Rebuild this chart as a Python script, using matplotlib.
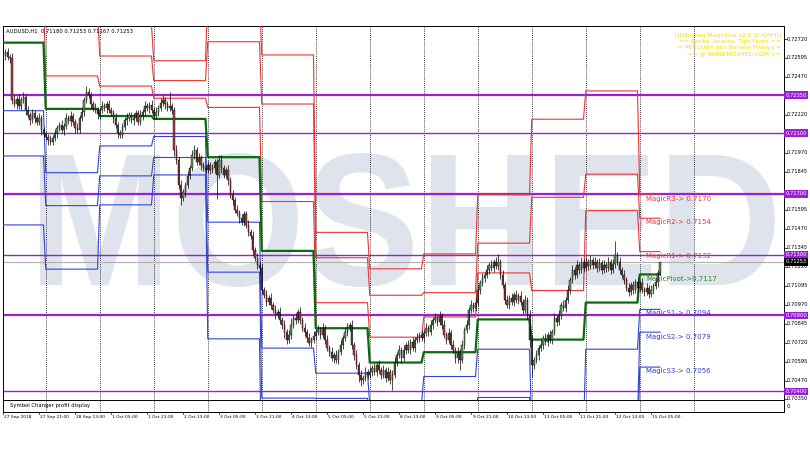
import numpy as np
import matplotlib
matplotlib.use("Agg")
import matplotlib.pyplot as plt
from matplotlib.transforms import blended_transform_factory, Affine2D
from matplotlib.textpath import TextPath
from matplotlib.font_manager import FontProperties
from matplotlib.patches import PathPatch

W, H = 810, 450

# hourly closes, pips above 0.70000, one row per trading day (27 Sep 05:00 .. 15 Oct 09:00)
closes_by_day = [
    [261.5, 263.4, 260, 259.5, 232, 229, 232.5, 228, 232, 234, 225, 222, 218.7, 223, 220, 217.4, 220, 212, 209.5],
    [207.5, 205.5, 204, 207, 210, 213.4, 215.4, 212, 214.8, 220, 218, 221.3, 217.4, 213.4, 212, 220, 224, 232, 237, 235, 229, 226.6, 225.3, 222.6],
    [225.3, 228, 226.6, 229, 225.3, 223.3, 220, 215.4, 210, 208.8, 214, 218.7, 220, 222, 218.7, 220, 223.3, 217.4, 222, 224, 228, 226.6, 228.6, 225.3],
    [221.3, 224, 226.6, 230, 232, 229, 226.6, 228, 225.3, 199, 192.4, 176, 167.4, 171.3, 176, 182, 187, 195.7, 199, 191, 193.7, 189, 187, 185.8],
    [189, 185.8, 187, 191, 182.5, 192.4, 187, 182.5, 185.8, 179.2, 169.4, 166, 159.5, 157.5, 154, 151.6, 157, 149.6, 145, 142.4, 133, 128, 123.3, 121.3],
    [106.8, 103.6, 99, 101.6, 97, 93.7, 90.4, 92.4, 87.1, 84, 79.2, 74, 77.2, 84, 88.4, 87.1, 92.4, 87.1, 81.8, 79.2, 75.3, 72, 74, 76.6],
    [79.2, 80.5, 77.2, 81.8, 74, 68.7, 66, 62, 64, 60.8, 66, 70.6, 75.3, 79.2, 81.8, 84, 70.6, 64, 57.5, 51, 47.6, 49, 52.9, 51],
    [52.9, 55.5, 52.9, 57.5, 54.2, 51, 54.2, 49, 52.9, 47.6, 51, 59.5, 64, 67.3, 62, 67.3, 70.6, 67.3, 72.7, 68.7, 74, 75.3, 77.2, 75.3],
    [78.5, 81.8, 79.2, 84, 87.1, 88.4, 85.8, 89.7, 84, 77.2, 74, 78.5, 70.6, 67.3, 62, 66, 60.8, 70.6, 80.5, 84, 93.7, 97, 95, 98.3],
    [106.8, 111.5, 114.7, 116.7, 120, 123.3, 121.3, 125.3, 122.7, 125.3, 116.7, 110, 100.3, 97, 101.6, 99, 103.6, 100.3, 103, 99, 93.7, 100.3, 90.4, 74],
    [57.5, 60.8, 64, 68.7, 70.6, 75.3, 72.7, 77.2, 74, 79.2, 88.4, 85.8, 90.4, 97, 95, 100.3, 106.8, 113.4, 120, 116.7, 123.3, 120, 125.3, 121.3],
    [125.3, 122.7, 126.6, 123.3, 125.3, 121.3, 124.6, 120, 123.3, 121.3, 125.3, 120, 124, 129.9, 125.3, 120, 116.7, 113.4, 108.2, 105.5, 110, 106.8, 112, 108.2],
    [111.5, 106.8, 105.5, 108.2, 104.2, 106.8, 109.5, 112, 118, 125.3],
]
first_open = 262.0

# wick lengths above / below the body, pips
hi_wick = [
    [5, 2, 3, 2, 3, 3, 2, 3, 2, 3, 2, 3, 2, 3, 2, 2, 3, 2, 2],
    [2, 2, 3, 2, 3, 2, 2, 3, 2, 3, 2, 3, 2, 2, 3, 2, 3, 2, 4, 3, 2, 2, 3, 2],
    [2, 3, 2, 2, 3, 2, 2, 3, 2, 2, 3, 2, 3, 2, 2, 3, 2, 2, 3, 2, 3, 2, 2, 3],
    [2, 3, 2, 3, 3, 2, 2, 9, 2, 2, 3, 2, 3, 2, 2, 3, 2, 3, 3, 2, 3, 2, 2, 2],
    [3, 2, 3, 2, 2, 3, 3, 2, 2, 3, 2, 3, 2, 3, 2, 3, 2, 2, 3, 2, 3, 2, 3, 2],
    [3, 2, 3, 2, 3, 2, 3, 2, 3, 2, 3, 2, 3, 4, 2, 3, 2, 3, 2, 3, 2, 3, 2, 3],
    [2, 3, 2, 3, 2, 3, 2, 3, 2, 3, 2, 3, 2, 3, 3, 2, 3, 2, 3, 2, 3, 2, 3, 2],
    [3, 2, 3, 2, 3, 2, 3, 2, 3, 2, 3, 3, 2, 3, 2, 3, 2, 3, 2, 3, 2, 3, 2, 3],
    [2, 3, 2, 3, 2, 3, 2, 3, 2, 3, 2, 3, 2, 3, 2, 3, 2, 3, 2, 3, 2, 3, 2, 3],
    [3, 2, 3, 2, 3, 2, 3, 2, 3, 5, 2, 3, 2, 3, 2, 3, 2, 3, 2, 3, 2, 3, 2, 3],
    [3, 2, 3, 2, 3, 2, 3, 2, 3, 2, 3, 2, 3, 2, 3, 2, 3, 2, 3, 2, 3, 2, 3, 2],
    [3, 2, 3, 2, 3, 2, 3, 2, 3, 2, 3, 2, 3, 9, 2, 3, 2, 3, 2, 3, 2, 3, 2, 3],
    [2, 3, 2, 3, 2, 3, 2, 3, 2, 0],
]
lo_wick = [
    [2, 3, 2, 3, 3, 2, 3, 2, 3, 2, 3, 2, 3, 2, 3, 2, 2, 3, 2],
    [2, 3, 2, 2, 2, 3, 2, 2, 3, 2, 2, 3, 2, 3, 2, 2, 2, 3, 2, 2, 3, 2, 2, 3],
    [3, 2, 2, 3, 2, 2, 3, 2, 3, 2, 2, 2, 3, 2, 2, 3, 2, 2, 2, 3, 2, 2, 3, 2],
    [2, 2, 3, 2, 2, 3, 2, 2, 3, 4, 3, 3, 5, 2, 3, 2, 2, 2, 3, 2, 2, 3, 2, 2],
    [2, 3, 2, 3, 16, 2, 3, 2, 2, 3, 2, 3, 2, 2, 3, 2, 3, 2, 3, 2, 3, 2, 3, 4],
    [3, 2, 3, 2, 3, 2, 3, 2, 3, 3, 4, 3, 2, 3, 2, 3, 2, 3, 2, 3, 3, 2, 3, 2],
    [3, 2, 3, 2, 3, 2, 3, 2, 3, 2, 3, 2, 3, 2, 3, 2, 3, 3, 3, 5, 4, 3, 2, 3],
    [2, 3, 2, 3, 2, 3, 2, 3, 2, 3, 7, 2, 3, 2, 3, 2, 3, 2, 3, 2, 3, 2, 3, 2],
    [3, 2, 3, 2, 3, 2, 3, 2, 3, 2, 3, 2, 3, 2, 3, 3, 7, 2, 3, 2, 3, 2, 3, 2],
    [2, 3, 2, 3, 2, 3, 2, 3, 2, 3, 3, 2, 3, 2, 3, 2, 3, 2, 3, 2, 3, 2, 3, 5],
    [8, 3, 2, 3, 2, 3, 2, 3, 2, 3, 2, 3, 2, 3, 2, 3, 2, 3, 2, 3, 2, 3, 2, 3],
    [2, 3, 2, 3, 2, 3, 2, 3, 2, 3, 2, 3, 2, 3, 2, 3, 2, 3, 2, 3, 2, 3, 2, 3],
    [3, 2, 3, 2, 3, 2, 3, 2, 3, 1.3],
]

# daily pivot levels (pips above 0.70000), one value per day
r3 = [374, 312, 281, 257.7, 302, 261.5, 144.7, 120.7, 130.5, 169.4, 219.2, 237.8, 170]
r2 = [344, 290, 260.8, 244.6, 270.2, 229.2, 128, 103.3, 105, 137.6, 167.8, 183, 154]
r1 = [299, 247.7, 241, 233, 227, 165, 98.4, 75.7, 89, 118, 106.4, 159, 132]
pv = [269.6, 226, 221.3, 219.4, 194.2, 132.5, 81.6, 59, 65.8, 87.4, 74.1, 98.5, 117]
s1 = [224.8, 184, 201.6, 207.8, 151.4, 68.5, 52, 31, 49.8, 67.8, 12.7, 67.8, 94]
s2 = [195, 162.3, 181.9, 194, 118.5, 35.6, 35.4, 15, 26.6, 36, -20, 21, 79]
s3 = [149.6, 120.5, 162.8, 182.5, 74.6, -28, 5.5, -13, 10, 18.8, -70, -7, 56]

magic_labels = ["MagicR3-> 0.7170", "MagicR2-> 0.7154", "MagicR1-> 0.7132", "MagicPivot->0.7117",
                "MagicS1-> 0.7094", "MagicS2-> 0.7079", "MagicS3-> 0.7056"]

round_levels = [0.72350, 0.72100, 0.71700, 0.71300, 0.70900, 0.70400]
round_widths = [1.6, 1.0, 1.6, 1.0, 1.6, 1.0]
price_ticks = [0.72720, 0.72595, 0.72470, 0.72220, 0.71970, 0.71845, 0.71595, 0.71470,
               0.71345, 0.71220, 0.71095, 0.70970, 0.70845, 0.70720, 0.70595, 0.70470, 0.70350]
bid = 0.71253

time_labels = ["27 Sep 2018", "27 Sep 21:00", "28 Sep 13:00", "1 Oct 05:00", "1 Oct 21:00",
               "2 Oct 13:00", "3 Oct 05:00", "3 Oct 21:00", "4 Oct 13:00", "5 Oct 05:00",
               "5 Oct 21:00", "8 Oct 13:00", "9 Oct 05:00", "9 Oct 21:00", "10 Oct 13:00",
               "11 Oct 05:00", "11 Oct 21:00", "12 Oct 13:00", "15 Oct 05:00"]

banner = ["[[[Moshed Magicline v2.0 @ AMP]]]", "== Berita, Analisa, Tips Forex ==",
          "= PERGURA dlm Bahasa Melayu =", "== @ WWW.MOSHED.COM <="]

# ---- build series
def p(v):
    return 0.70 + np.asarray(v, dtype=float) / 10000.0

day_len = [len(d) for d in closes_by_day]
close = p(sum(closes_by_day, []))
opn = np.concatenate([p([first_open]), close[:-1]])
high = np.maximum(opn, close) + np.array(sum(hi_wick, [])) / 10000.0
low = np.minimum(opn, close) - np.array(sum(lo_wick, [])) / 10000.0
n = len(close)
idx = np.arange(n)
day_start = np.cumsum([0] + day_len[:-1])

def per_bar(levels):
    return np.repeat(p(levels), day_len)

# ---- figure / axes, positioned in pixels
fig = plt.figure(figsize=(W / 100, H / 100), dpi=100)
L, R, T, B, SB = 3, 784, 26, 400, 411.5
ax = fig.add_axes([L / W, 1 - B / H, (R - L) / W, (B - T) / H])
sub = fig.add_axes([L / W, 1 - SB / H, (R - L) / W, (SB - B) / H])

YTOP, YBOT = 0.728056, 0.703434
px_per_bar = 2.25
xmax = (R - L) / px_per_bar
for a in (ax, sub):
    a.set_xlim(0, xmax)
    a.set_xticks([])
    a.set_yticks([])
    for s in a.spines.values():
        s.set_linewidth(0.7)
        s.set_color("black")
ax.set_ylim(YBOT, YTOP)
sub.set_ylim(0, 1)

# watermark, stretched to its box (bars 16..343, price 0.71087..0.71970)
tp = TextPath((0, 0), "MOSHED", size=1, prop=FontProperties(family="Liberation Sans", weight="bold"))
ext = tp.get_extents()
wx0, wx1, wy0, wy1 = 16.4, 343.0, 0.710874, 0.719695
wm_tf = (Affine2D().translate(-ext.x0, -ext.y0)
         .scale((wx1 - wx0) / ext.width, (wy1 - wy0) / ext.height)
         .translate(wx0, wy0) + ax.transData)
ax.add_patch(PathPatch(tp, transform=wm_tf, fc="#dfe3ec", ec="none", zorder=0))

# day separators (incl. the next day)
seps = list(day_start[1:]) + [day_start[-1] + 24]
for s_ in seps:
    for a in (ax, sub):
        a.axvline(s_, color="black", lw=0.6, ls=(0, (1, 1.5)), zorder=1)

# round-number levels
for lv, lw in zip(round_levels, round_widths):
    ax.axhline(lv, color="#9a1fd6", lw=lw, zorder=2)
ax.axhline(bid, color="#b0b0b0", lw=0.8, zorder=2)

# pivot lines
for lv in (r3, r2, r1):
    ax.plot(idx, per_bar(lv), color="#ee3333", lw=0.8, zorder=3)
for lv in (s1, s2, s3):
    ax.plot(idx, per_bar(lv), color="#3344dd", lw=0.8, zorder=3)
ax.plot(idx, per_bar(pv), color="#0b6a0b", lw=1.6, zorder=3)

# candles
up = close >= opn
ax.vlines(idx, low, high, color="black", lw=0.5, zorder=4)
ax.bar(idx, close - opn, bottom=opn, width=0.6,
       color=np.where(up, "#5a9a5a", "#b04040"), edgecolor="black", linewidth=0.3, zorder=5)

# magic labels for the current day
mag_y = [199, 222, 256, 279.5, 313.5, 337, 371]
mag_c = ["#e03a3a"] * 3 + ["#1f8a1f"] + ["#3040c8"] * 3
for t, y, c in zip(magic_labels, mag_y, mag_c):
    fig.text(646 / W, 1 - y / H, t, fontsize=5, color=c, va="center", ha="left")

# header
fig.text(6 / W, 1 - 31 / H, "AUDUSD,H1  0.71180 0.71253 0.71167 0.71253", fontsize=3.8,
         color="black", va="center")
for k, line in enumerate(banner):
    fig.text(781 / W, 1 - (36 + 5.8 * k) / H, line, fontsize=4.3, color="#f0e000",
             ha="right", va="center")

sub.text(3, 0.5, "Symbol Changer profit display", fontsize=3.8, va="center", ha="left")
fig.text(787 / W, 1 - 407 / H, "0", fontsize=4, va="center")

# price scale on the right
tr = blended_transform_factory(ax.transAxes, ax.transData)
x_lab = (787 - L) / (R - L)
for v in price_ticks:
    ax.plot([1.0, 1.004], [v, v], color="black", lw=0.5, transform=tr, clip_on=False)
    ax.text(x_lab, v, f"{v:.5f}", fontsize=3.7, transform=tr, va="center", ha="left")
for v in round_levels:
    ax.text(x_lab - 0.002, v, f"{v:.5f}", fontsize=3.7, color="white", transform=tr,
            va="center", ha="left", bbox=dict(boxstyle="square,pad=0.25", fc="#9a1fd6", ec="none"))
ax.text(x_lab - 0.002, bid, f"{bid:.5f}", fontsize=3.7, color="white", transform=tr,
        va="center", ha="left", bbox=dict(boxstyle="square,pad=0.25", fc="black", ec="none"))

# time scale
for k, t in enumerate(time_labels):
    xp = L + 16 * k * px_per_bar
    fig.add_artist(plt.Line2D([xp / W, xp / W], [1 - SB / H, 1 - 414 / H], color="black", lw=0.5))
    fig.text((xp + 1.5) / W, 1 - 417 / H, t, fontsize=3.2, va="center", ha="left")

fig.savefig("out.png", dpi=100, facecolor="white")
